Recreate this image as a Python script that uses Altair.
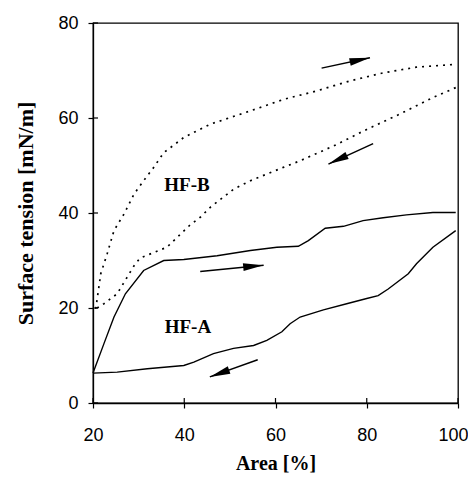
import math
import altair as alt
import pandas as pd

# ---- data ----
a_exp_x = [20.0, 22.4, 24.6, 27.1, 31.1, 35.5, 39.9, 47.2, 54.5, 60.3, 65.0, 67.2, 70.9, 74.9, 79.2, 83.6, 88.7, 94.5, 99.5]
a_exp_y = [6.3, 12.5, 18.1, 23.0, 27.9, 30.0, 30.2, 31.0, 32.1, 32.8, 33.0, 34.2, 36.8, 37.2, 38.4, 39.0, 39.6, 40.1, 40.1]

a_cmp_x = [99.5, 94.5, 90.9, 89.1, 84.7, 82.5, 80.0, 75.6, 70.5, 65.4, 63.2, 61.4, 58.1, 55.2, 50.8, 46.4, 42.1, 39.9, 31.9, 25.3, 20.0]
a_cmp_y = [36.3, 32.8, 29.3, 27.2, 24.0, 22.6, 22.0, 20.9, 19.6, 18.1, 16.7, 15.0, 13.2, 12.1, 11.5, 10.4, 8.6, 7.9, 7.2, 6.5, 6.3]

b_exp_x = [20.6, 21.7, 23.1, 24.6, 26.8, 29.0, 31.1, 33.3, 35.5, 39.9, 45.7, 54.5, 61.7, 69.0, 76.3, 83.6, 90.9, 99.5]
b_exp_y = [19.8, 27.2, 31.4, 36.3, 39.8, 44.0, 46.8, 49.6, 52.7, 55.9, 58.7, 61.5, 63.9, 65.7, 67.8, 69.5, 70.7, 71.3]

b_cmp_x = [99.5, 94.5, 87.2, 80.0, 72.7, 65.4, 61.7, 54.5, 50.8, 45.7, 43.5, 41.3, 36.2, 30.3, 29.0, 25.3, 22.4, 20.6]
b_cmp_y = [66.4, 64.3, 60.8, 57.6, 54.1, 51.0, 49.6, 46.8, 45.0, 41.2, 39.1, 37.5, 32.8, 30.5, 28.9, 23.0, 20.9, 19.8]

arrow_x0 = [70.1, 81.4, 43.5, 56.1]
arrow_y0 = [70.5, 54.6, 27.7, 9.1]
arrow_x1 = [80.7, 71.6, 57.4, 45.6]
arrow_y1 = [72.7, 50.3, 29.0, 5.5]

label_text = ["HF-B", "HF-A"]
label_x = [40.6, 40.8]
label_y = [45.9, 16.0]

x_ticks = [20, 40, 60, 80, 100]
y_ticks = [0, 20, 40, 60, 80]

W, H = 365, 380

rows = []
for name, xs, ys in [("A_exp", a_exp_x, a_exp_y), ("A_cmp", a_cmp_x, a_cmp_y),
                     ("B_exp", b_exp_x, b_exp_y), ("B_cmp", b_cmp_x, b_cmp_y)]:
    for i, (x, y) in enumerate(zip(xs, ys)):
        rows.append({"series": name, "i": i, "x": x, "y": y})
df = pd.DataFrame(rows)

kx, ky = W / 80.0, H / 80.0
arr = pd.DataFrame({"x0": arrow_x0, "y0": arrow_y0, "x1": arrow_x1, "y1": arrow_y1})
arr["angle"] = [
    math.degrees(math.atan2(-(b1 - b0) * ky, (a1 - a0) * kx)) % 360
    for a0, b0, a1, b1 in zip(arrow_x0, arrow_y0, arrow_x1, arrow_y1)
]
labels = pd.DataFrame({"t": label_text, "x": label_x, "y": label_y})

xs = alt.Scale(domain=[20, 100], nice=False)
ys = alt.Scale(domain=[0, 80], nice=False)

X = alt.X("x:Q", scale=xs, axis=alt.Axis(
    values=x_ticks, title="Area [%]", tickSize=5, labelPadding=32,
    labelFlush=True, labelFlushOffset=10,
    labelBaseline="alphabetic", titleBaseline="alphabetic", titleX=W / 2, titleY=66,
))
Y = alt.Y("y:Q", scale=ys, axis=alt.Axis(
    values=y_ticks, title="Surface tension [mN/m]", tickSize=5, labelPadding=10,
    labelFlush=False,
    titleAngle=270, titleBaseline="alphabetic", titleX=-61, titleY=H / 2,
    titleFontSize=22,
))

solid = alt.Chart(df[df.series.str.startswith("A")]).mark_line(
    color="black", strokeWidth=1.4
).encode(x=X, y=Y, detail="series:N", order="i:Q")

dotted = alt.Chart(df[df.series.str.startswith("B")]).mark_line(
    color="black", strokeWidth=1.7, strokeDash=[2, 5]
).encode(x=alt.X("x:Q", scale=xs), y=alt.Y("y:Q", scale=ys), detail="series:N", order="i:Q")

shafts = alt.Chart(arr).mark_rule(color="black", strokeWidth=1.5).encode(
    x=alt.X("x0:Q", scale=xs), y=alt.Y("y0:Q", scale=ys), x2="x1:Q", y2="y1:Q"
)
heads = alt.Chart(arr).mark_point(
    shape="M0,0L-2,-0.38L-2,0.38Z", filled=True, color="black", opacity=1, size=420
).encode(x=alt.X("x1:Q", scale=xs), y=alt.Y("y1:Q", scale=ys), angle=alt.Angle("angle:Q", scale=None))

text = alt.Chart(labels).mark_text(
    font="Liberation Serif", fontWeight="bold", fontSize=19, color="black"
).encode(x=alt.X("x:Q", scale=xs), y=alt.Y("y:Q", scale=ys), text="t:N")

xt = alt.Chart(pd.DataFrame({"v": x_ticks})).mark_rule(color="black", strokeWidth=1.2).encode(
    x=alt.X("v:Q", scale=xs), y=alt.value(H), y2=alt.value(H - 5)
)
yt = alt.Chart(pd.DataFrame({"v": y_ticks})).mark_rule(color="black", strokeWidth=1.2).encode(
    y=alt.Y("v:Q", scale=ys), x=alt.value(0), x2=alt.value(5)
)

chart = alt.layer(solid, dotted, shafts, heads, text, xt, yt).properties(
    width=W, height=H,
    autosize=alt.AutoSizeParams(type="none"),
    padding={"left": 85, "top": 15, "right": 10, "bottom": 71},
    background="white",
).configure_view(stroke="black", strokeWidth=1.3).configure_axis(
    grid=False, domainColor="black", domainWidth=1.3, tickColor="black", tickWidth=1.2,
    labelColor="black", titleColor="black",
    labelFont="Liberation Sans", labelFontSize=18, labelFontWeight="normal",
    titleFont="Liberation Serif", titleFontSize=20, titleFontWeight="bold",
)

chart.save("out.html", embed_options={"renderer": "svg", "actions": False})
